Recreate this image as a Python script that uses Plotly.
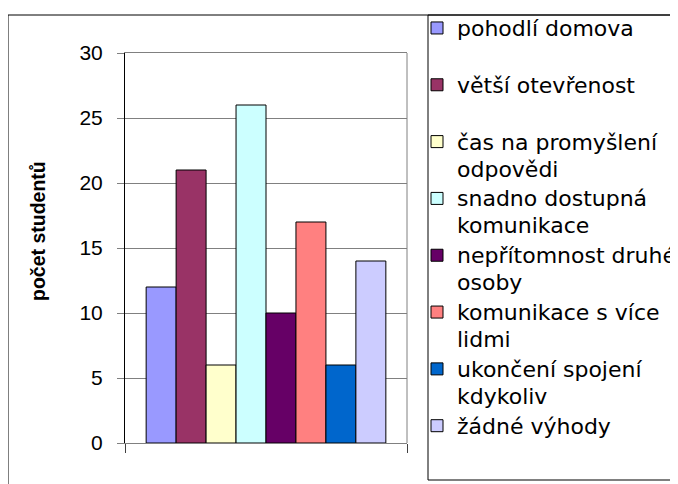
import plotly.graph_objects as go

categories = ["pohodlí domova", "větší otevřenost", "čas na promyšlení<br>odpovědi",
              "snadno dostupná<br>komunikace", "nepřítomnost druhé<br>osoby",
              "komunikace s více<br>lidmi", "ukončení spojení<br>kdykoliv", "žádné výhody"]
values = [12, 21, 6, 26, 10, 17, 6, 14]
colors = ["#9999FF", "#993366", "#FFFFCC", "#CCFFFF", "#660066", "#FF8080", "#0066CC", "#CCCCFF"]
y_ticks = [0, 5, 10, 15, 20, 25, 30]
y_title = "počet studentů"

# the page body has an 8px margin; the figure is laid out in page pixels minus 8
OFF = 8
W, H = 678 - OFF, 484 - OFF
L, R, T, B = 125 - OFF, 407 - OFF, 53 - OFF, 443 - OFF
FONT = "Liberation Sans, Arial, sans-serif"
LEG_FONT = "DejaVu Sans, Verdana, sans-serif"

fig = go.Figure()
for i, (name, v, c) in enumerate(zip(categories, values, colors)):
    lines = name.split("<br>")
    if len(lines) == 1:
        lines.append("\u00a0")
    label = "<br>".join('<span style="font-size:22px">' + ln + "</span>" for ln in lines)
    fig.add_trace(go.Bar(
        x=["a"], y=[v], name=label,
        marker=dict(color=c, line=dict(color="black", width=1)),
    ))

def px_x(p):  # page px -> paper
    return (p - OFF - L) / (R - L)

def px_y(p):
    return (B - (p - OFF)) / (B - T)

fig.update_layout(
    width=W, height=H,
    margin=dict(l=L, r=W - R, t=T, b=H - B, autoexpand=False),
    paper_bgcolor="white", plot_bgcolor="white",
    font=dict(family=FONT, size=21, color="black"),
    barmode="group", bargap=0.15, bargroupgap=0,
    showlegend=True,
    legend=dict(
        x=px_x(417), y=px_y(8), xanchor="left", yanchor="top",
        bgcolor="rgba(0,0,0,0)", borderwidth=0,
        font=dict(family=LEG_FONT, size=20.7, color="black"),
        valign="top", traceorder="normal", maxheight=1000,
    ),
    xaxis=dict(
        showticklabels=False, showgrid=False, zeroline=False,
        showline=True, linecolor="#808080", linewidth=1, mirror=True,
        ticks="outside", tickson="boundaries", ticklen=9, tickcolor="#404040",
        fixedrange=True,
    ),
    yaxis=dict(
        range=[0, 30], tickvals=y_ticks, ticktext=[str(t) for t in y_ticks],
        showgrid=True, gridcolor="#808080", gridwidth=1, zeroline=False,
        showline=True, linecolor="black", linewidth=1,
        ticks="outside", ticklen=7, tickcolor="#808080",
        ticklabelstandoff=10,
        tickfont=dict(family=FONT, size=21, color="black"),
    ),
    annotations=[
        dict(text="<b>" + y_title + "</b>", xref="paper", yref="paper",
             x=px_x(38), y=px_y(231), xanchor="center", yanchor="middle",
             textangle=-90, showarrow=False,
             font=dict(family=FONT, size=19.5, color="black")),
    ],
    shapes=[
        dict(type="rect", xref="paper", yref="paper",
             x0=px_x(8), x1=px_x(700), y0=px_y(520), y1=px_y(15),
             line=dict(color="black", width=1), fillcolor="rgba(0,0,0,0)", layer="below"),
        dict(type="rect", xref="paper", yref="paper",
             x0=px_x(428), x1=px_x(700), y0=px_y(480), y1=px_y(15),
             line=dict(color="black", width=1), fillcolor="rgba(0,0,0,0)", layer="below"),
        dict(type="line", xref="paper", yref="paper",
             x0=1, x1=1, y0=0, y1=1, line=dict(color="#808080", width=1)),
    ],
)

fig.write_html("out.html")
